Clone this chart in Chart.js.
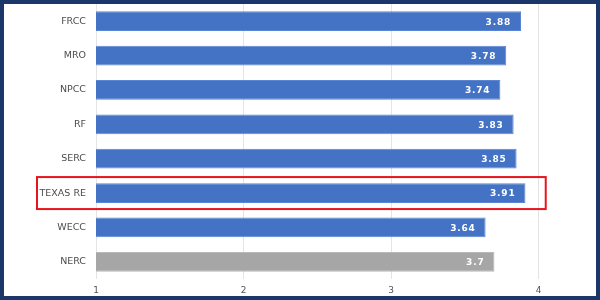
<!DOCTYPE html>
<html lang="en">
<head>
  <meta charset="UTF-8" />
  <title>Reliability by Region</title>
  <script src="https://cdn.jsdelivr.net/npm/chart.js"></script>
  <style>
    html, body { margin: 0; padding: 0; background: #fff; }
    .frame {
      width: 600px; height: 300px; box-sizing: border-box;
      border: 4px solid #1b3769; background: #fff;
    }
    canvas { display: block; }
  </style>
</head>
<body>
  <div class="frame">
    <canvas id="chart" width="592" height="292"></canvas>
  </div>

  <script>
    const regions = ['FRCC', 'MRO', 'NPCC', 'RF', 'SERC', 'TEXAS RE', 'WECC', 'NERC'];
    const scores = [3.88, 3.78, 3.74, 3.83, 3.85, 3.91, 3.64, 3.7];
    const xTicks = [1, 2, 3, 4];
    const highlighted = 'TEXAS RE';

    const barColors = regions.map(r => r === 'NERC' ? '#a6a6a6' : '#4472c4');
    const edgeColors = regions.map(r => r === 'NERC' ? '#b8b8b8' : '#5a85d3');

    // white value labels at the end of each bar
    const valueLabels = {
      id: 'valueLabels',
      afterDatasetsDraw(chart) {
        const ctx = chart.ctx;
        const meta = chart.getDatasetMeta(0);
        ctx.save();
        ctx.fillStyle = '#fff';
        ctx.font = 'bold 9px "DejaVu Sans"';
        ctx.textAlign = 'right';
        ctx.textBaseline = 'middle';
        ctx.letterSpacing = '0.8px';
        meta.data.forEach((bar, i) => {
          ctx.fillText(String(scores[i]), bar.x - 10, bar.y + 1);
        });
        ctx.restore();
      }
    };

    // red box around the highlighted row
    const highlightBox = {
      id: 'highlightBox',
      afterDraw(chart) {
        const i = regions.indexOf(highlighted);
        const y = chart.scales.y.getPixelForValue(i);
        const right = chart.scales.x.getPixelForValue(4) + 7;
        const ctx = chart.ctx;
        ctx.save();
        ctx.strokeStyle = '#e8141b';
        ctx.lineWidth = 2;
        ctx.strokeRect(33, y - 16, right - 33, 32);
        ctx.restore();
      }
    };

    new Chart(document.getElementById('chart'), {
      type: 'bar',
      data: {
        labels: regions,
        datasets: [{
          data: scores,
          backgroundColor: barColors,
          borderColor: edgeColors,
          borderWidth: 1,
          barPercentage: 0.64,
          categoryPercentage: 0.9
        }]
      },
      options: {
        indexAxis: 'y',
        responsive: false,
        animation: false,
        layout: { padding: { top: 0, right: 13, bottom: 0, left: 0 } },
        plugins: { legend: { display: false }, tooltip: { enabled: false } },
        scales: {
          x: {
            min: 1,
            max: 4.3,
            afterBuildTicks: s => { s.ticks = xTicks.map(v => ({ value: v })); },
            afterFit: s => { s.height = 17; },
            grid: { color: '#e4e4e4', drawTicks: false },
            border: { display: false },
            ticks: { color: '#555', padding: 6, font: { family: 'DejaVu Sans', size: 9 } }
          },
          y: {
            afterFit: s => { s.width = 92; s.paddingTop = 0; s.paddingBottom = 0; },
            grid: { display: false },
            border: { display: false },
            ticks: { color: '#4d4d4d', padding: 2, font: { family: 'DejaVu Sans', size: 9.5 } }
          }
        }
      },
      plugins: [valueLabels, highlightBox]
    });
  </script>
</body>
</html>
